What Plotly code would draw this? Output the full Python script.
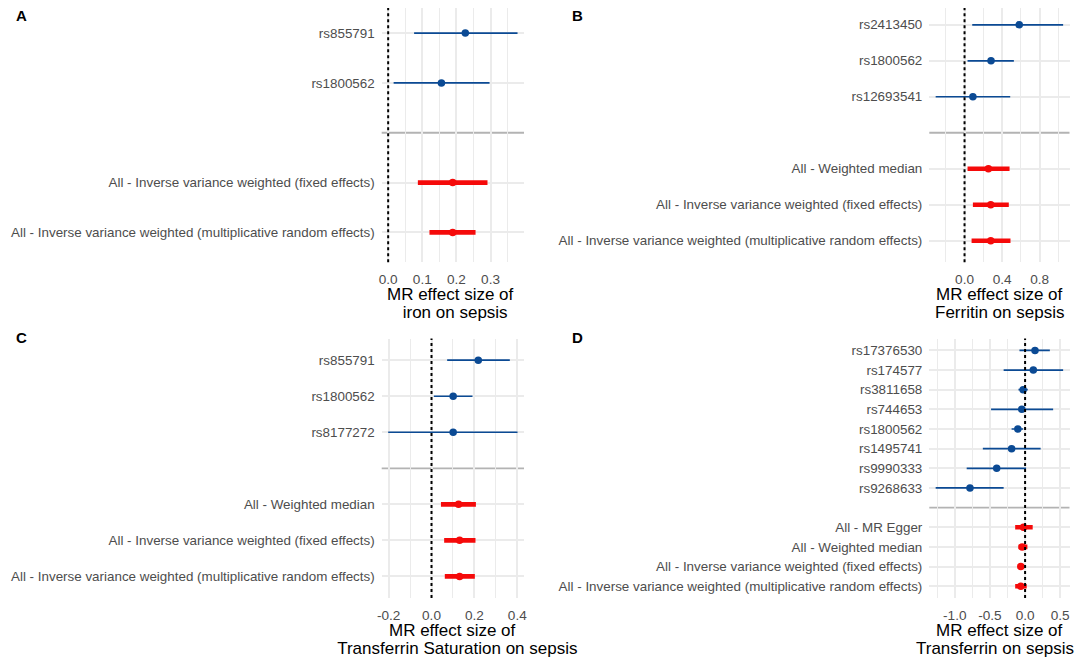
import math
import plotly.graph_objects as go

# rows top to bottom; "" marks the separator row between SNPs and methods
a_labels = ["rs855791", "rs1800562", "",
            "All - Inverse variance weighted (fixed effects)",
            "All - Inverse variance weighted (multiplicative random effects)"]
a_b = [0.226, 0.156, None, 0.189, 0.189]
a_lo = [0.076, 0.016, None, 0.087, 0.121]
a_hi = [0.379, 0.297, None, 0.291, 0.256]

b_labels = ["rs2413450", "rs1800562", "rs12693541", "",
            "All - Weighted median",
            "All - Inverse variance weighted (fixed effects)",
            "All - Inverse variance weighted (multiplicative random effects)"]
b_b = [0.582, 0.282, 0.089, None, 0.254, 0.279, 0.279]
b_lo = [0.082, 0.032, -0.307, None, 0.032, 0.089, 0.075]
b_hi = [1.049, 0.525, 0.486, None, 0.479, 0.471, 0.489]

c_labels = ["rs855791", "rs1800562", "rs8177272", "",
            "All - Weighted median",
            "All - Inverse variance weighted (fixed effects)",
            "All - Inverse variance weighted (multiplicative random effects)"]
c_b = [0.218, 0.101, 0.101, None, 0.126, 0.131, 0.131]
c_lo = [0.073, 0.011, -0.202, None, 0.044, 0.059, 0.062]
c_hi = [0.365, 0.191, 0.401, None, 0.207, 0.205, 0.202]

d_labels = ["rs17376530", "rs174577", "rs3811658", "rs744653", "rs1800562",
            "rs1495741", "rs9990333", "rs9268633", "",
            "All - MR Egger", "All - Weighted median",
            "All - Inverse variance weighted (fixed effects)",
            "All - Inverse variance weighted (multiplicative random effects)"]
d_b = [0.141, 0.117, -0.028, -0.047, -0.103, -0.192, -0.404, -0.784, None,
       -0.023, -0.042, -0.061, -0.061]
d_lo = [-0.080, -0.305, -0.094, -0.484, -0.192, -0.601, -0.831, -1.272, None,
        -0.141, -0.094, -0.103, -0.141]
d_hi = [0.352, 0.541, 0.038, 0.399, -0.028, 0.221, 0.014, -0.305, None,
        0.108, 0.033, -0.014, 0.023]

titles = [["MR effect size of ", " iron on sepsis"],
          ["MR effect size of", "Ferritin on sepsis"],
          ["MR effect size of", "  Transferrin Saturation on sepsis"],
          ["MR effect size of", "Transferrin on sepsis"]]

BLUE = "#0b4a94"
RED = "#f50a0a"
GRID = "#ebebeb"
FONT = "Liberation Sans, Arial, sans-serif"

OFF = 8  # the page body margin pushes the figure 8px right and down
W, H = 1084 - OFF, 659 - OFF


def px_x(p):
    return (p - OFF) / W


def px_y(p):
    return 1 - (p - OFF) / H


# panel plot areas in page pixels (left, right) and (top, bottom)
XL, XR = (381.7, 524.0), (929.3, 1069.5)
YT, YB = (3.2, 262.3), (338.6, 598.0)

panels = [
    ("A", a_labels, a_b, a_lo, a_hi, XL, YT, 0.1, 0.05),
    ("B", b_labels, b_b, b_lo, b_hi, XR, YT, 0.4, 0.2),
    ("C", c_labels, c_b, c_lo, c_hi, XL, YB, 0.2, 0.1),
    ("D", d_labels, d_b, d_lo, d_hi, XR, YB, 0.5, 0.25),
]

fig = go.Figure()
annotations = []
shapes = []

for i, (letter, labels, b, lo, hi, xpx, ypx, dt, mdt) in enumerate(panels):
    n = len(labels)
    sfx = "" if i == 0 else str(i + 1)
    xa, ya = "x" + sfx, "y" + sfx
    rows = list(range(n))
    sep = labels.index("")

    for kind, colour, thick in [("snp", BLUE, 1.7), ("all", RED, 4.6)]:
        idx = [k for k in rows if labels[k] and (labels[k].startswith("All") == (kind == "all"))]
        fig.add_trace(go.Scatter(
            x=[b[k] for k in idx], y=idx, mode="markers", xaxis=xa, yaxis=ya,
            marker=dict(color=colour, size=7.5),
            error_x=dict(type="data", symmetric=False,
                         array=[hi[k] - b[k] for k in idx],
                         arrayminus=[b[k] - lo[k] for k in idx],
                         width=0, thickness=thick, color=colour),
            showlegend=False, hoverinfo="skip"))

    # ggplot-style 5% expansion around the data (and the null line)
    vals = [v for v in lo + hi if v is not None] + [0]
    w = max(vals) - min(vals)
    xr = [min(vals) - 0.05 * w, max(vals) + 0.05 * w]
    tv = [k * dt for k in range(math.ceil(xr[0] / dt), math.floor(xr[1] / dt) + 1)]
    tt = ["%.1f" % v if abs(v) > 1e-9 else "0.0" for v in tv]

    # discrete y scale with 0.6 expansion; clip top at figure edge
    top, bot = ypx
    spacing = (bot - top) / (n + 0.2)
    top_use = max(top, OFF)
    yr = [n - 0.4, -0.6 + (top_use - top) / spacing]
    xdom = [px_x(xpx[0]), px_x(xpx[1])]
    ydom = [px_y(bot), min(1.0, px_y(top_use))]

    fig.layout[("xaxis" + sfx)] = dict(
        domain=xdom, anchor=ya, range=xr, tickmode="array", tickvals=tv, ticktext=tt,
        showgrid=True, gridcolor=GRID, gridwidth=1.5, zeroline=False,
        showline=False, ticks="", tickfont=dict(size=13.6, color="#4d4d4d", family=FONT),
        ticklabelstandoff=7, automargin=False,
        minor=dict(tickmode="linear", dtick=mdt, tick0=0, showgrid=True,
                   gridcolor=GRID, gridwidth=1.2),
        fixedrange=True)
    fig.layout[("yaxis" + sfx)] = dict(
        domain=ydom, anchor=xa, range=yr,
        tickmode="array", tickvals=[k for k in rows if labels[k]],
        ticktext=[labels[k] for k in rows if labels[k]],
        showgrid=True, gridcolor=GRID, gridwidth=1.6, zeroline=False,
        showline=False, ticks="", ticklabelstandoff=6, automargin=False,
        tickfont=dict(size=13.4, color="#4d4d4d", family=FONT), fixedrange=True)

    # separator between SNP rows and method rows
    shapes.append(dict(type="line", xref=xa + " domain", yref=ya, x0=0, x1=1,
                       y0=sep, y1=sep, line=dict(color="#b3b3b3", width=1.8),
                       layer="below"))
    # null effect line
    shapes.append(dict(type="line", xref=xa, yref=ya + " domain", x0=0, x1=0,
                       y0=0, y1=1, line=dict(color="black", width=2, dash="dot"),
                       layer="above"))

    xmid = (xpx[0] + xpx[1]) / 2
    for j, off in enumerate([32, 50.4]):
        # keep the long last line of D inside the visible page
        xc = min(xmid, 995.0) if (letter == "D" and j == 1) else xmid
        annotations.append(dict(text=titles[i][j], x=px_x(xc), y=px_y(bot + off),
                                xref="paper", yref="paper", showarrow=False,
                                xanchor="center", yanchor="middle",
                                font=dict(size=17, color="black", family=FONT)))
    lx = px_x(21.7) if xpx is XL else px_x(577.5)
    ly = px_y(15.5) if ypx is YT else px_y(337.5)
    annotations.append(dict(text="<b>" + letter + "</b>", x=lx, y=ly,
                            xref="paper", yref="paper", showarrow=False,
                            xanchor="center", yanchor="middle",
                            font=dict(size=15, color="black", family=FONT)))

fig.update_layout(
    template="none",
    width=W, height=H,
    margin=dict(l=0, r=0, t=0, b=0),
    paper_bgcolor="white", plot_bgcolor="white",
    font=dict(family=FONT),
    annotations=annotations, shapes=shapes,
)

fig.write_html("out.html")
